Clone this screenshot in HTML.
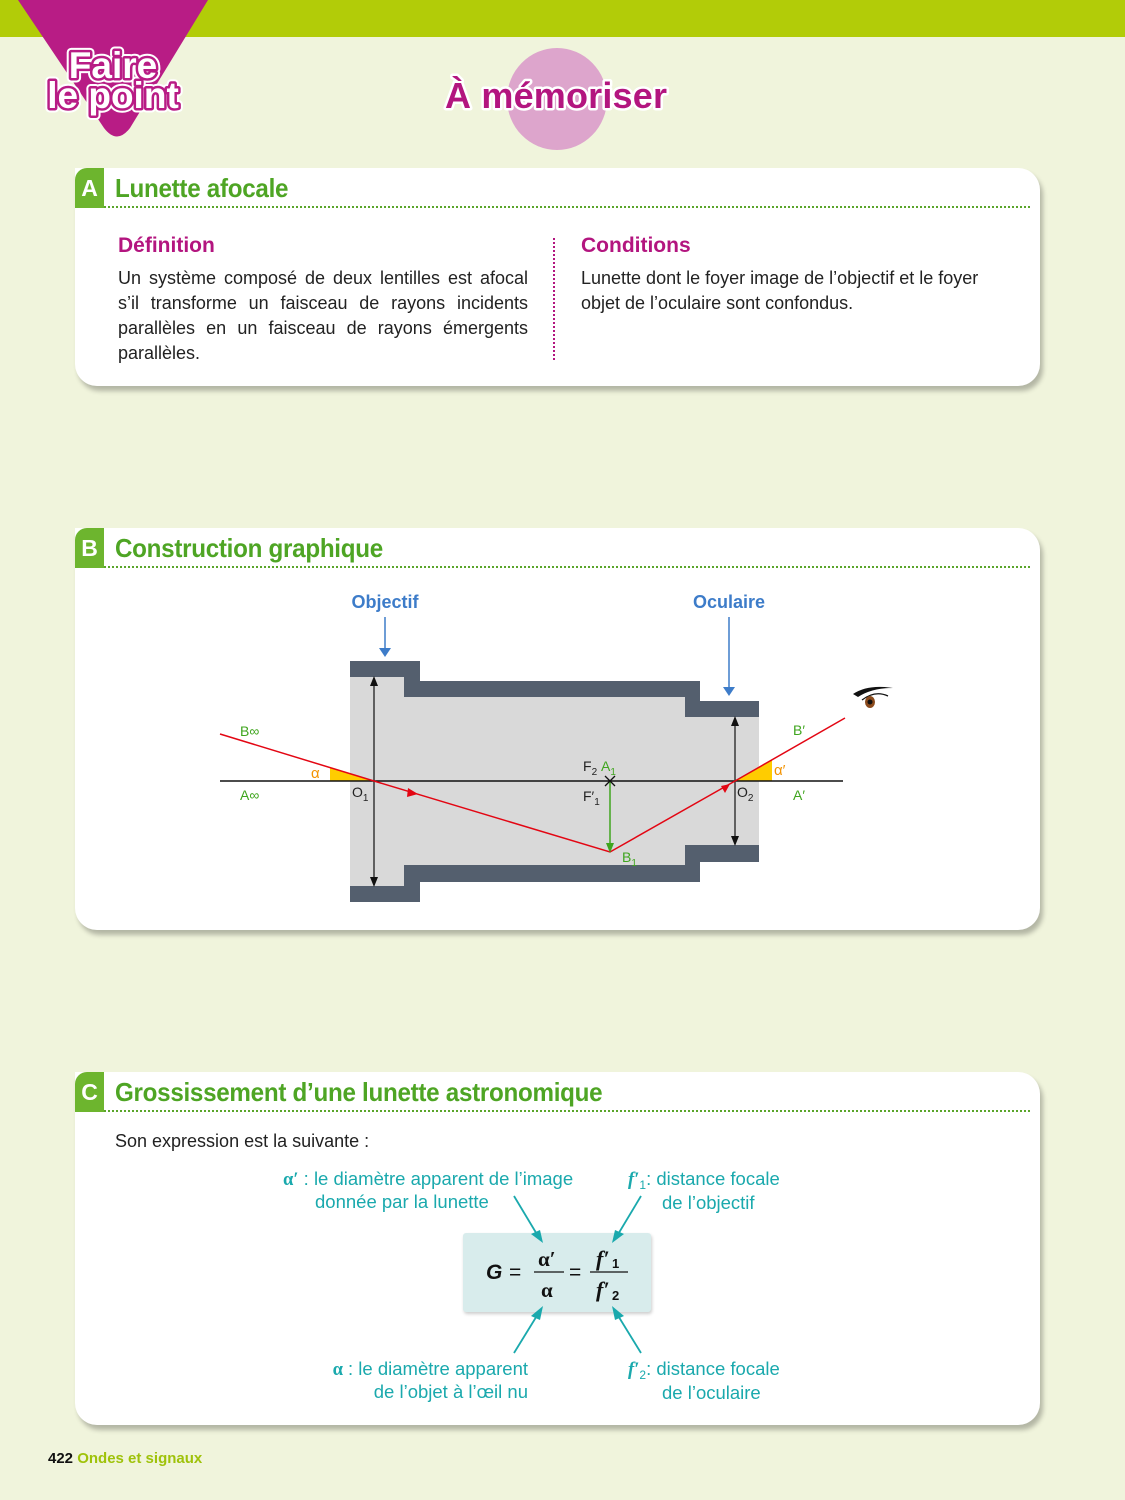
<!DOCTYPE html>
<html><head><meta charset="utf-8"><style>
body{margin:0;width:1125px;height:1500px;background:#f0f4dc;position:relative;overflow:hidden;font-family:"Liberation Sans","DejaVu Sans",sans-serif}
.abs{position:absolute}
.card{position:absolute;left:75px;width:965px;background:#fff;border-radius:0 22px 22px 22px;box-shadow:3px 5px 5px rgba(0,0,0,0.25)}
.letter{position:absolute;left:0;top:0;width:29px;height:40px;background:#6db52e;border-radius:12px 0 0 0;color:#fff;font-weight:bold;font-size:23px;text-align:center;line-height:40px}
.title{position:absolute;left:40px;top:5px;color:#4ea524;font-weight:bold;font-size:26px;letter-spacing:-0.3px;transform:scaleX(0.93);transform-origin:left}
.dots{position:absolute;left:29px;right:10px;top:38px;border-top:2.5px dotted #5aa52a}
.h{color:#b3157f;font-weight:bold;font-size:21px}
.p{font-size:18px;color:#222;line-height:25px}
.t{fill:#222;font-size:14px}
.g{fill:#3fa51e;font-size:14px}
.o{fill:#f39200;font-size:15px}
.cy{color:#1aa9ad;font-size:18.5px;line-height:22px;white-space:nowrap}
.fs{font-family:'Liberation Serif',serif;font-weight:bold;font-style:italic}
.sb{font-size:12px;position:relative;top:4px}
</style></head><body>
<div class="abs" style="left:0;top:0;width:1125px;height:37px;background:#b2cc08"></div>
<svg class="abs" style="left:0;top:0" width="220" height="140"><path d="M18,0 L208,0 L130,128 Q117,145 104,128 Z" fill="#b81c85"/></svg>
<svg class="abs" style="left:0;top:0" width="220" height="140">
<g font-weight="bold" font-size="37" text-anchor="middle" stroke-linejoin="round">
<text x="113" y="78" fill="#fff" stroke="#fff" stroke-width="9">Faire</text>
<text x="113" y="108" fill="#fff" stroke="#fff" stroke-width="9">le point</text>
<text x="113" y="78" fill="#fff" stroke="#b81c85" stroke-width="5" paint-order="stroke">Faire</text>
<text x="113" y="108" fill="#fff" stroke="#b81c85" stroke-width="5" paint-order="stroke">le point</text>
</g></svg>
<div class="abs" style="left:507px;top:48px;width:100px;height:102px;border-radius:50%;background:#dda5cc"></div>
<svg class="abs" style="left:430px;top:60px" width="260" height="60">
<text x="15" y="48" font-weight="bold" font-size="36" fill="#b3157f" stroke="#fff" stroke-width="5" paint-order="stroke" stroke-linejoin="round" textLength="222">À mémoriser</text></svg>

<div class="card" style="top:168px;height:218px">
<div class="letter">A</div><div class="title">Lunette afocale</div><div class="dots"></div>
<div class="abs h" style="left:43px;top:66px">Définition</div>
<div class="abs p" style="left:43px;top:98px;width:410px;text-align:justify">Un système composé de deux lentilles est afocal s’il transforme un faisceau de rayons incidents parallèles en un faisceau de rayons émergents parallèles.</div>
<div class="abs" style="left:478px;top:70px;height:122px;border-left:2.5px dotted #b3157f"></div>
<div class="abs h" style="left:506px;top:66px">Conditions</div>
<div class="abs p" style="left:506px;top:98px;width:420px">Lunette dont le foyer image de l’objectif et le foyer objet de l’oculaire sont confondus.</div>
</div>

<div class="card" style="top:528px;height:402px">
<div class="letter">B</div><div class="title">Construction graphique</div><div class="dots"></div>
</div>
<svg class="abs" style="left:0;top:0" width="1125" height="1000">
<text x="385" y="608" text-anchor="middle" fill="#3d7cc9" font-weight="bold" font-size="18">Objectif</text>
<text x="729" y="608" text-anchor="middle" fill="#3d7cc9" font-weight="bold" font-size="18">Oculaire</text>
<line x1="385" y1="617" x2="385" y2="650" stroke="#3d7cc9" stroke-width="1.5"/><path d="M379,648 L391,648 L385,657Z" fill="#3d7cc9"/>
<line x1="729" y1="617" x2="729" y2="689" stroke="#3d7cc9" stroke-width="1.5"/><path d="M723,687 L735,687 L729,696Z" fill="#3d7cc9"/>
<g fill="#d9d9d9"><rect x="350" y="677" width="54" height="209"/><rect x="404" y="697" width="296" height="168"/><rect x="685" y="717" width="74" height="128"/></g>
<g fill="#545f6e"><rect x="350" y="661" width="70" height="16"/><rect x="404" y="661" width="16" height="36"/><rect x="404" y="681" width="296" height="16"/><rect x="685" y="681" width="15" height="36"/><rect x="685" y="701" width="74" height="16"/>
<rect x="350" y="886" width="70" height="16"/><rect x="404" y="865" width="16" height="37"/><rect x="404" y="865" width="296" height="17"/><rect x="685" y="845" width="15" height="37"/><rect x="685" y="845" width="74" height="17"/></g>
<path d="M374,781 L330,781 L330,767.6 Z" fill="#ffcc00"/>
<path d="M735,781 L772,781 L772,760 Z" fill="#ffcc00"/>
<line x1="220" y1="781" x2="843" y2="781" stroke="#111" stroke-width="1.5"/>
<g stroke="#111" stroke-width="1.2"><line x1="374" y1="681" x2="374" y2="882"/><line x1="735" y1="721" x2="735" y2="841"/></g>
<g fill="#111"><path d="M370,686 L374,676 L378,686Z"/><path d="M370,877 L374,887 L378,877Z"/><path d="M731,726 L735,716 L739,726Z"/><path d="M731,836 L735,846 L739,836Z"/></g>
<polyline points="220,734 374,781 610,852 735,781 845,718" fill="none" stroke="#e30613" stroke-width="1.5"/>
<path d="M418,794 L408,788 L407,797Z" fill="#e30613"/>
<path d="M730,784 L721,786 L725,793Z" fill="#e30613"/>
<line x1="610" y1="781" x2="610" y2="846" stroke="#3fa51e" stroke-width="1.5"/><path d="M606,843 L614,843 L610,853Z" fill="#3fa51e"/>
<path d="M605,776 L615,786 M615,776 L605,786" stroke="#111" stroke-width="1.3"/>
<text x="240" y="736" class="g">B∞</text><text x="240" y="800" class="g">A∞</text>
<text x="311" y="778" class="o">α</text><text x="774" y="775" class="o">α′</text>
<text x="352" y="797" class="t">O<tspan font-size="10" dy="4">1</tspan></text>
<text x="737" y="797" class="t">O<tspan font-size="10" dy="4">2</tspan></text>
<text x="583" y="771" class="t">F<tspan font-size="10" dy="4">2</tspan></text>
<text x="601" y="771" class="g">A<tspan font-size="10" dy="4">1</tspan></text>
<text x="583" y="801" class="t">F′<tspan font-size="10" dy="4">1</tspan></text>
<text x="622" y="862" class="g">B<tspan font-size="10" dy="4">1</tspan></text>
<text x="793" y="735" class="g">B′</text><text x="793" y="800" class="g">A′</text>
<path d="M853,694 Q868,684 893,688 Q872,688 858,697Z" fill="#111"/>
<path d="M862,700 Q875,690 888,696" fill="none" stroke="#111" stroke-width="1.3"/>
<ellipse cx="870" cy="702" rx="5" ry="6" fill="#8a4a1c"/><circle cx="870" cy="702" r="2.5" fill="#111"/>
</svg>

<div class="card" style="top:1072px;height:353px">
<div class="letter">C</div><div class="title">Grossissement d’une lunette astronomique</div><div class="dots"></div>
<div class="abs p" style="left:40px;top:57px">Son expression est la suivante :</div>
<div class="abs cy" style="left:208px;top:96px"><b style="font-family:'Liberation Serif',serif">α′</b> : le diamètre apparent de l’image<br><span style="padding-left:32px">donnée par la lunette</span></div>
<div class="abs cy" style="left:553px;top:96px"><span class="fs">f′</span><span class="sb">1</span>: distance focale<br><span style="padding-left:34px">de l’objectif</span></div>
<div class="abs cy" style="left:150px;top:286px;width:303px;text-align:right"><b style="font-family:'Liberation Serif',serif">α</b> : le diamètre apparent<br>de l’objet à l’œil nu</div>
<div class="abs cy" style="left:553px;top:286px"><span class="fs">f′</span><span class="sb">2</span>: distance focale<br><span style="padding-left:34px">de l’oculaire</span></div>
<div class="abs" style="left:388px;top:161px;width:188px;height:79px;background:#d8ecec;border-radius:3px;box-shadow:1px 2px 3px rgba(0,0,0,0.2)"></div>
</div>
<svg class="abs" style="left:0;top:0" width="1125" height="1500">
<text x="486" y="1279" font-weight="bold" font-style="italic" font-size="21" fill="#111">G</text>
<text x="509" y="1279" font-size="21" fill="#111">=</text>
<text x="538" y="1266" font-weight="bold" font-size="21" font-family="Liberation Serif" fill="#111">α′</text>
<line x1="534" y1="1272" x2="564" y2="1272" stroke="#111" stroke-width="1.2"/>
<text x="541" y="1297" font-weight="bold" font-size="21" font-family="Liberation Serif" fill="#111">α</text>
<text x="569" y="1279" font-size="21" fill="#111">=</text>
<text x="596" y="1266" font-weight="bold" font-style="italic" font-size="22" font-family="Liberation Serif" fill="#111">f′</text><text x="612" y="1268" font-size="13" font-weight="bold" fill="#111">1</text>
<line x1="590" y1="1272" x2="628" y2="1272" stroke="#111" stroke-width="1.2"/>
<text x="596" y="1297" font-weight="bold" font-style="italic" font-size="22" font-family="Liberation Serif" fill="#111">f′</text><text x="612" y="1300" font-size="13" font-weight="bold" fill="#111">2</text>
<g stroke="#1aa9ad" stroke-width="1.8">
<line x1="514" y1="1196" x2="538" y2="1236"/><line x1="641" y1="1196" x2="617" y2="1236"/>
<line x1="514" y1="1353" x2="538" y2="1314"/><line x1="641" y1="1353" x2="617" y2="1314"/></g>
<g fill="#1aa9ad">
<path d="M543,1243 L531,1234 L540,1230Z"/><path d="M612,1243 L615,1230 L624,1234Z"/>
<path d="M543,1306 L540,1320 L531,1316Z"/><path d="M612,1306 L624,1316 L615,1320Z"/></g>
</svg>
<div class="abs" style="left:48px;top:1450px;font-weight:bold;font-size:15px;color:#111">422 <span style="color:#9fc20a">Ondes et signaux</span></div>
</body></html>
